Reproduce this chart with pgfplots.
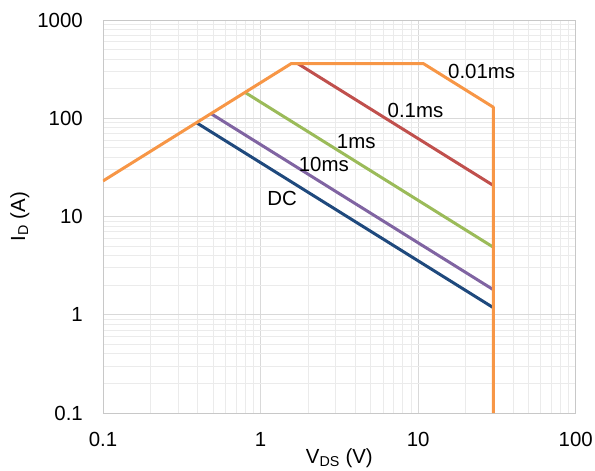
\documentclass[border=0pt]{standalone}
\usepackage{fontspec}
\setmainfont{Liberation Sans}
\usepackage{pgfplots}
\pgfplotsset{compat=1.18}
\definecolor{cdc}{HTML}{1F497D}
\definecolor{c10}{HTML}{8064A2}
\definecolor{c1}{HTML}{9BBB59}
\definecolor{c01}{HTML}{C0504D}
\definecolor{c001}{HTML}{F79646}
\definecolor{gridmaj}{HTML}{D9D9D9}
\definecolor{gridmin}{HTML}{EBEBEB}
\definecolor{axisc}{HTML}{C8C8C8}
\newcommand{\chartfont}{\fontsize{20.5}{24}\selectfont}
\begin{document}
\chartfont
\begin{tikzpicture}
\begin{loglogaxis}[
  scale only axis, width=472.7bp, height=393bp,
  xmin=0.1, xmax=100, ymin=0.1, ymax=1000,
  xtick={0.1,1,10,100}, xticklabels={0.1,1,10,100},
  ytick={0.1,1,10,100,1000}, yticklabels={0.1,1,10,100,1000},
  grid=both,
  major grid style={draw=gridmaj, line width=0.8bp},
  minor grid style={draw=gridmin, line width=0.8bp},
  axis line style={draw=axisc, line width=0.9bp},
  major tick length=0pt, minor tick length=0pt,
  tick style={draw=none},
  tick label style={font=\chartfont},
  label style={font=\chartfont},
  xticklabel style={anchor=base, inner sep=0pt, yshift=-33.7bp},
  yticklabel style={anchor=east, inner sep=0pt, xshift=-20bp},
  xlabel={V\textsubscript{DS} (V)},
  ylabel={I\textsubscript{D} (A)},
  xlabel style={at={(axis description cs:0.5,-0.128)}, anchor=base, inner sep=0pt},
  ylabel style={at={(axis description cs:-0.165,0.5)}, anchor=base, inner sep=0pt},
  every axis plot/.append style={line width=3bp, line join=round},
]
\addplot[cdc] coordinates {(0.3918,90.1) (30,1.18)};
\addplot[c10] coordinates {(0.4846,111.4) (30,1.8)};
\addplot[c1] coordinates {(0.7967,183.3) (30,4.87)};
\addplot[c01] coordinates {(1.722,360) (30,20.7)};
\addplot[c001] coordinates {(0.1,23) (1.565,360) (10.8,360) (30,129.6) (30,0.1)};
\node at (axis cs:25.3,298) {0.01ms};
\node at (axis cs:9.62,121) {0.1ms};
\node at (axis cs:4.05,57.7) {1ms};
\node at (axis cs:2.52,34) {10ms};
\node at (axis cs:1.37,15.2) {DC};
\end{loglogaxis}
\path ([xshift=-103bp,yshift=-58bp]current axis.south west) rectangle ([xshift=19.3bp,yshift=20bp]current axis.north east);
\end{tikzpicture}
\end{document}
